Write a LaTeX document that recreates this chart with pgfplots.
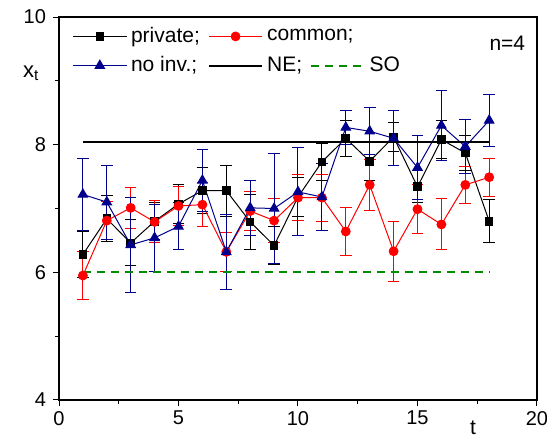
\documentclass[border=0pt]{standalone}
\usepackage{pgfplots}
\pgfplotsset{compat=1.18}
\usepackage{pgfplotstable}
\usepackage{fontspec}
\setmainfont{Liberation Sans}
\definecolor{navyb}{RGB}{0,0,140}
\definecolor{sogreen}{RGB}{0,140,0}

\pgfplotstableread{
t y e
1 6.28 0.36
2 6.84 0.36
3 6.46 0.36
4 6.80 0.29
5 7.07 0.30
6 7.28 0.36
7 7.28 0.40
8 6.79 0.43
9 6.42 0.30
10 7.18 0.30
11 7.73 0.29
12 8.10 0.28
13 7.74 0.30
14 8.12 0.23
15 7.34 0.25
16 8.08 0.30
17 7.87 0.28
18 6.80 0.34
}\privatetab

\pgfplotstableread{
t y e
1 5.95 0.37
2 6.81 0.30
3 7.01 0.32
4 6.79 0.33
5 7.04 0.31
6 7.06 0.34
7 6.32 0.30
8 6.96 0.30
9 6.81 0.35
10 7.17 0.36
11 7.17 0.37
12 6.64 0.37
13 7.37 0.40
14 6.33 0.47
15 6.99 0.38
16 6.75 0.40
17 7.37 0.29
18 7.49 0.30
}\commontab

\pgfplotstableread{
t y e
1 7.22 0.56
2 7.10 0.58
3 6.43 0.75
4 6.54 0.52
5 6.72 0.37
6 7.44 0.49
7 6.32 0.59
8 7.01 0.43
9 7.00 0.86
10 7.26 0.69
11 7.18 0.52
12 8.27 0.26
13 8.21 0.37
14 8.10 0.43
15 7.64 0.50
16 8.30 0.55
17 7.97 0.42
18 8.38 0.41
}\noinvtab

\begin{document}
\begin{tikzpicture}
\begin{axis}[
  name=ax,
  at={(0,0)}, anchor=south west,
  scale only axis,
  width=239pt, height=191.5pt,
  xmin=0, xmax=20, ymin=4, ymax=10,
  xtick={0,5,10,15,20},
  ytick={4,6,8,10},
  minor x tick num=1,
  minor y tick num=1,
  tick align=outside,
  xtick pos=left, ytick pos=left,
  major tick length=3pt,
  minor tick length=1.8pt,
  axis line style={line width=0.6pt},
  tick style={line width=0.5pt, black},
  /pgf/number format/assume math mode=true,
  tick label style={font=\fontsize{10}{12}\selectfont},
  xticklabel style={yshift=1pt},
  clip=false,
  legend columns=3,
  legend style={draw=none, fill=none, at={(axis description cs:0.015,0.995)}, anchor=north west,
    font=\fontsize{10.5}{12.5}\selectfont, row sep=1.5pt,
    /tikz/every even column/.append style={column sep=2pt}},
  legend cell align=left,
  legend image code/.code={
    \draw[mark repeat=2,mark phase=2] plot coordinates {(0cm,0cm) (0.47cm,0cm) (0.94cm,0cm)};
  },
  error bars/y dir=both,
  error bars/y explicit,
]
\addplot[black, line width=0.5pt, mark=square*, mark size=1.9pt, mark options={solid},
  error bars/error bar style={black, line width=0.5pt},
  error bars/error mark options={rotate=90, mark size=2.9pt, black, line width=0.5pt}]
  table[x=t, y=y, y error=e] {\privatetab};
\addlegendentry{private;}
\addplot[red, line width=0.5pt, mark=*, mark size=2.2pt, mark options={solid},
  error bars/error bar style={red, line width=0.5pt},
  error bars/error mark options={rotate=90, mark size=2.9pt, red, line width=0.5pt}]
  table[x=t, y=y, y error=e] {\commontab};
\addlegendentry{\makebox[0pt][l]{common;}}
\addlegendimage{empty legend}
\addlegendentry{}
\addplot[navyb, line width=0.5pt, mark=triangle*, mark size=2.7pt, mark options={solid},
  error bars/error bar style={navyb, line width=0.5pt},
  error bars/error mark options={rotate=90, mark size=2.9pt, navyb, line width=0.5pt}]
  table[x=t, y=y, y error=e] {\noinvtab};
\addlegendentry{no inv.;}
\addplot[black, line width=0.9pt, no marks, error bars/y dir=none] coordinates {(1,8.04) (18,8.04)};
\addlegendentry{NE;}
\addplot[sogreen, line width=0.9pt, dash pattern=on 4pt off 3pt, no marks, error bars/y dir=none] coordinates {(1,6.0) (18,6.0)};
\addlegendentry{SO}
\node[anchor=center, font=\fontsize{11}{13}\selectfont] at (axis description cs:-0.058,0.854) {x\textsubscript{t}};
\node[anchor=center, font=\fontsize{10.5}{12.5}\selectfont] at (axis description cs:0.866,-0.073) {t};
\node[anchor=north east, font=\fontsize{10.5}{12.5}\selectfont] at (axis description cs:0.99,0.97) {n=4};
\end{axis}
\pgfresetboundingbox
\useasboundingbox (-29.5pt,-18.5pt) rectangle (244pt,200pt);
\end{tikzpicture}
\end{document}
